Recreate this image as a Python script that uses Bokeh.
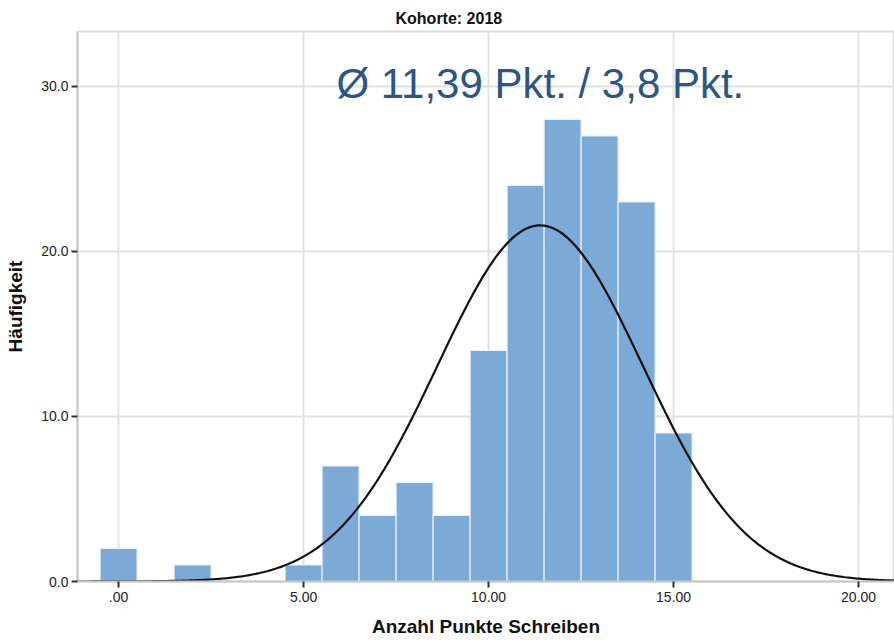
import numpy as np
from bokeh.plotting import figure
from bokeh.models import FixedTicker, Range1d, Label, ColumnDataSource
from bokeh.embed import file_html
from bokeh.resources import INLINE

# Histogram data (bin centres = points, counts = frequency)
points = [0, 2, 5, 6, 7, 8, 9, 10, 11, 12, 13, 14, 15]
counts = [2, 1, 1, 7, 4, 6, 4, 14, 24, 28, 27, 23, 9]
x_ticks = [0, 5, 10, 15, 20]
x_tick_labels = [".00", "5.00", "10.00", "15.00", "20.00"]
y_ticks = [0, 10, 20, 30]
y_tick_labels = ["0.0", "10.0", "20.0", "30.0"]
title_text = "Kohorte: 2018"
annotation_text = "Ø 11,39 Pkt. / 3,8 Pkt."
x_label = "Anzahl Punkte Schreiben"
y_label = "Häufigkeit"

FONT = "Liberation Sans"

p = figure(width=894, height=642, output_backend="svg", toolbar_location=None,
           x_range=Range1d(-1.11, 20.97), y_range=Range1d(0, 33.33),
           min_border_left=77, min_border_right=0, min_border_top=31,
           min_border_bottom=61)

p.title.text = title_text
p.title.text_font = FONT
p.title.text_font_size = "16px"
p.title.text_font_style = "bold"
p.title.align = "left"
p.title.offset = 318
p.title.standoff = 9
p.title.text_color = "#111111"

p.background_fill_color = "white"
p.border_fill_color = "white"
p.outline_line_color = "#dcdcdc"
p.outline_line_width = 2

# grids
p.xgrid.ticker = FixedTicker(ticks=x_ticks)
p.ygrid.ticker = FixedTicker(ticks=y_ticks)
for g in (p.xgrid, p.ygrid):
    g.grid_line_color = "#e2e2e2"
    g.grid_line_width = 2

# bars
edges_l = [c - 0.5 for c in points]
edges_r = [c + 0.5 for c in points]
src = ColumnDataSource(dict(left=edges_l, right=edges_r, top=counts, bottom=[0] * len(counts)))
p.quad(left="left", right="right", top="top", bottom="bottom", source=src,
       fill_color="#7BAAD6", line_color="#E8F0F8", line_width=1.2)

# normal curve fitted to the data
vals = np.repeat(points, counts)
n = len(vals)
mu = vals.mean()
sd = vals.std(ddof=1)
xs = np.linspace(-1.11, 20.97, 400)
ys = n * 1.0 / (sd * np.sqrt(2 * np.pi)) * np.exp(-0.5 * ((xs - mu) / sd) ** 2)
p.line(xs, ys, line_color="#111111", line_width=2.2)

# annotation
p.add_layout(Label(x=11.4, y=30.2, text=annotation_text, text_align="center",
                   text_baseline="middle", text_font=FONT, text_font_size="42px",
                   text_color="#2B5587"))

# axes
p.xaxis.ticker = FixedTicker(ticks=x_ticks)
p.yaxis.ticker = FixedTicker(ticks=y_ticks)
p.xaxis.major_label_overrides = dict(zip(x_ticks, x_tick_labels))
p.yaxis.major_label_overrides = dict(zip(y_ticks, y_tick_labels))
p.xaxis.axis_label = x_label
p.yaxis.axis_label = y_label
for ax in (p.xaxis[0], p.yaxis[0]):
    ax.axis_line_color = "#c8c8c8"
    ax.axis_line_width = 2
    ax.major_tick_line_color = "#333333"
    ax.major_tick_line_width = 2
    ax.major_tick_out = 6
    ax.major_tick_in = 0
    ax.minor_tick_line_color = None
    ax.major_label_text_font = FONT
    ax.major_label_text_font_size = "14px"
    ax.major_label_text_color = "#222222"
    ax.axis_label_text_font = FONT
    ax.axis_label_text_font_size = "19px"
    ax.axis_label_text_font_style = "bold"
    ax.axis_label_text_color = "#111111"
p.xaxis.major_label_standoff = 4
p.xaxis.axis_label_standoff = 11
p.yaxis.major_label_standoff = 3
p.yaxis.axis_label_standoff = 12

open("out.html", "w").write(file_html(p, INLINE))
